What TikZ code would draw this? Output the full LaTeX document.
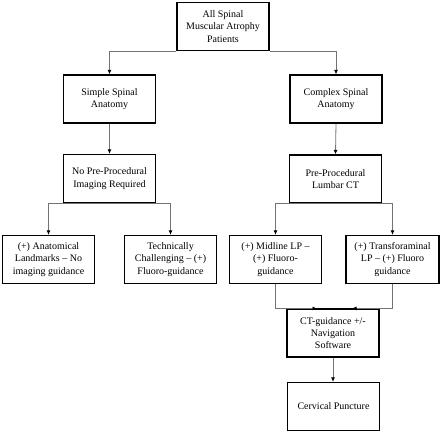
\documentclass[tikz,border=0pt]{standalone}
\usepackage{fontspec}
\setmainfont{Liberation Serif}
\usetikzlibrary{arrows.meta}
\begin{document}
\begin{tikzpicture}[x=1pt,y=1pt,
  box/.style={draw=black, line width=1.2pt, minimum width=92pt, minimum height=48pt,
    align=center, inner sep=2pt, font=\fontsize{10}{12.3}\selectfont, fill=white},
  conn/.style={draw=black!55, line width=0.8pt, -{Latex[length=4.5pt,width=4pt,black]}}]
\useasboundingbox (0,0) rectangle (440,433);
\node[box] (top) at (223,406.5) {All Spinal\\Muscular Atrophy\\Patients};
\node[box] (simple) at (109.5,334) {Simple Spinal\\Anatomy};
\node[box] (complex) at (336,334) {Complex Spinal\\Anatomy};
\node[box] (nopre) at (109.5,254.5) {No Pre-Procedural\\Imaging Required};
\node[box] (pre) at (335.5,254) {Pre-Procedural\\Lumbar CT};
\node[box] (anat) at (48.5,173.5) {(+) Anatomical\\Landmarks -- No\\imaging guidance};
\node[box] (tech) at (170.5,173.5) {Technically\\Challenging -- (+)\\Fluoro-guidance};
\node[box] (mid) at (275.5,173.5) {(+) Midline LP --\\(+) Fluoro-\\guidance};
\node[box, minimum width=93pt] (trans) at (392.5,173.5) {(+) Transforaminal\\LP -- (+) Fluoro\\guidance};
\node[box] (ct) at (333,100) {CT-guidance +/-\\Navigation\\Software};
\node[box] (cerv) at (333.5,26.5) {Cervical Puncture};
\draw[conn] (top.south west) -| (simple.north);
\draw[conn] (top.south east) -| (complex.north);
\draw[conn] (simple) -- (nopre);
\draw[conn] (complex.south) -- (pre.north);
\draw[conn] (nopre.south) -| (anat.north);
\draw[conn] (nopre.south) -| (tech.north);
\draw[conn] (pre.south) -| (mid.north);
\draw[conn] (pre.south) -| (trans.north);
\draw[conn] (mid.south) |- ([xshift=-16pt]ct.north);
\draw[conn] (trans.south) |- ([xshift=19pt]ct.north);
\draw[conn] (ct.south) -- (ct.south |- cerv.north);
\end{tikzpicture}
\end{document}
